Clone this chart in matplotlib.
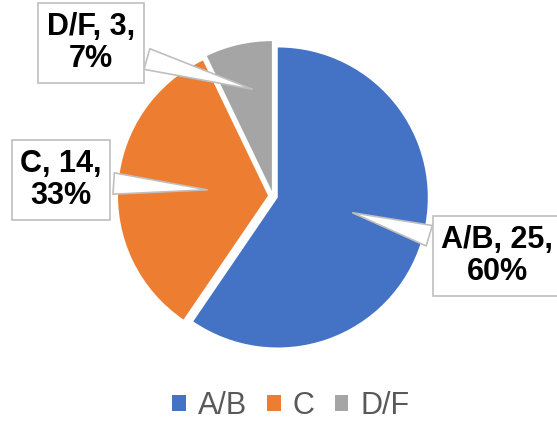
import matplotlib.pyplot as plt

# Grade distribution data
grades = ["A/B", "C", "D/F"]
counts = [25, 14, 3]
percents = [60, 33, 7]
colors = ["#4472C4", "#ED7D31", "#A5A5A5"]

fig = plt.figure(figsize=(5.57, 4.26), dpi=100)
ax = fig.add_axes([0, 0, 1, 1])

# pie in pixel-like data units (y up), explode is in data units here
wedges, _ = ax.pie(counts, colors=colors, startangle=90, counterclock=False,
                   explode=[5, 5, 5], center=(273, 230), radius=150,
                   wedgeprops=dict(linewidth=0))
ax.set_xlim(0, 557)
ax.set_ylim(0, 426)
ax.set_aspect("equal")
ax.axis("off")

# callout labels: text position and pointer target
label_pos = [(497, 170), (61, 246), (91, 383)]
pointer = [(350, 214), (210, 236), (255, 336)]
for i in range(len(grades)):
    txt = f"{grades[i]}, {counts[i]},\n{percents[i]}%"
    ax.annotate(txt, xy=pointer[i], xytext=label_pos[i],
                ha="center", va="center", fontsize=22, fontweight="bold",
                family="Liberation Sans", linespacing=1.1,
                bbox=dict(boxstyle="square,pad=0.28", fc="white", ec="#BFBFBF", lw=1.2),
                arrowprops=dict(arrowstyle="wedge,tail_width=0.7,shrink_factor=0.5",
                                fc="white", ec="#BFBFBF", lw=1.2))

leg = ax.legend(wedges, grades, loc="lower center", bbox_to_anchor=(0.522, -0.052),
                ncol=3, frameon=False, handlelength=0.45,
                handleheight=0.45, handletextpad=0.4, columnspacing=0.65,
                prop=dict(family="Liberation Sans", size=22))
for t in leg.get_texts():
    t.set_color("#595959")

fig.savefig("out.png", dpi=100)
